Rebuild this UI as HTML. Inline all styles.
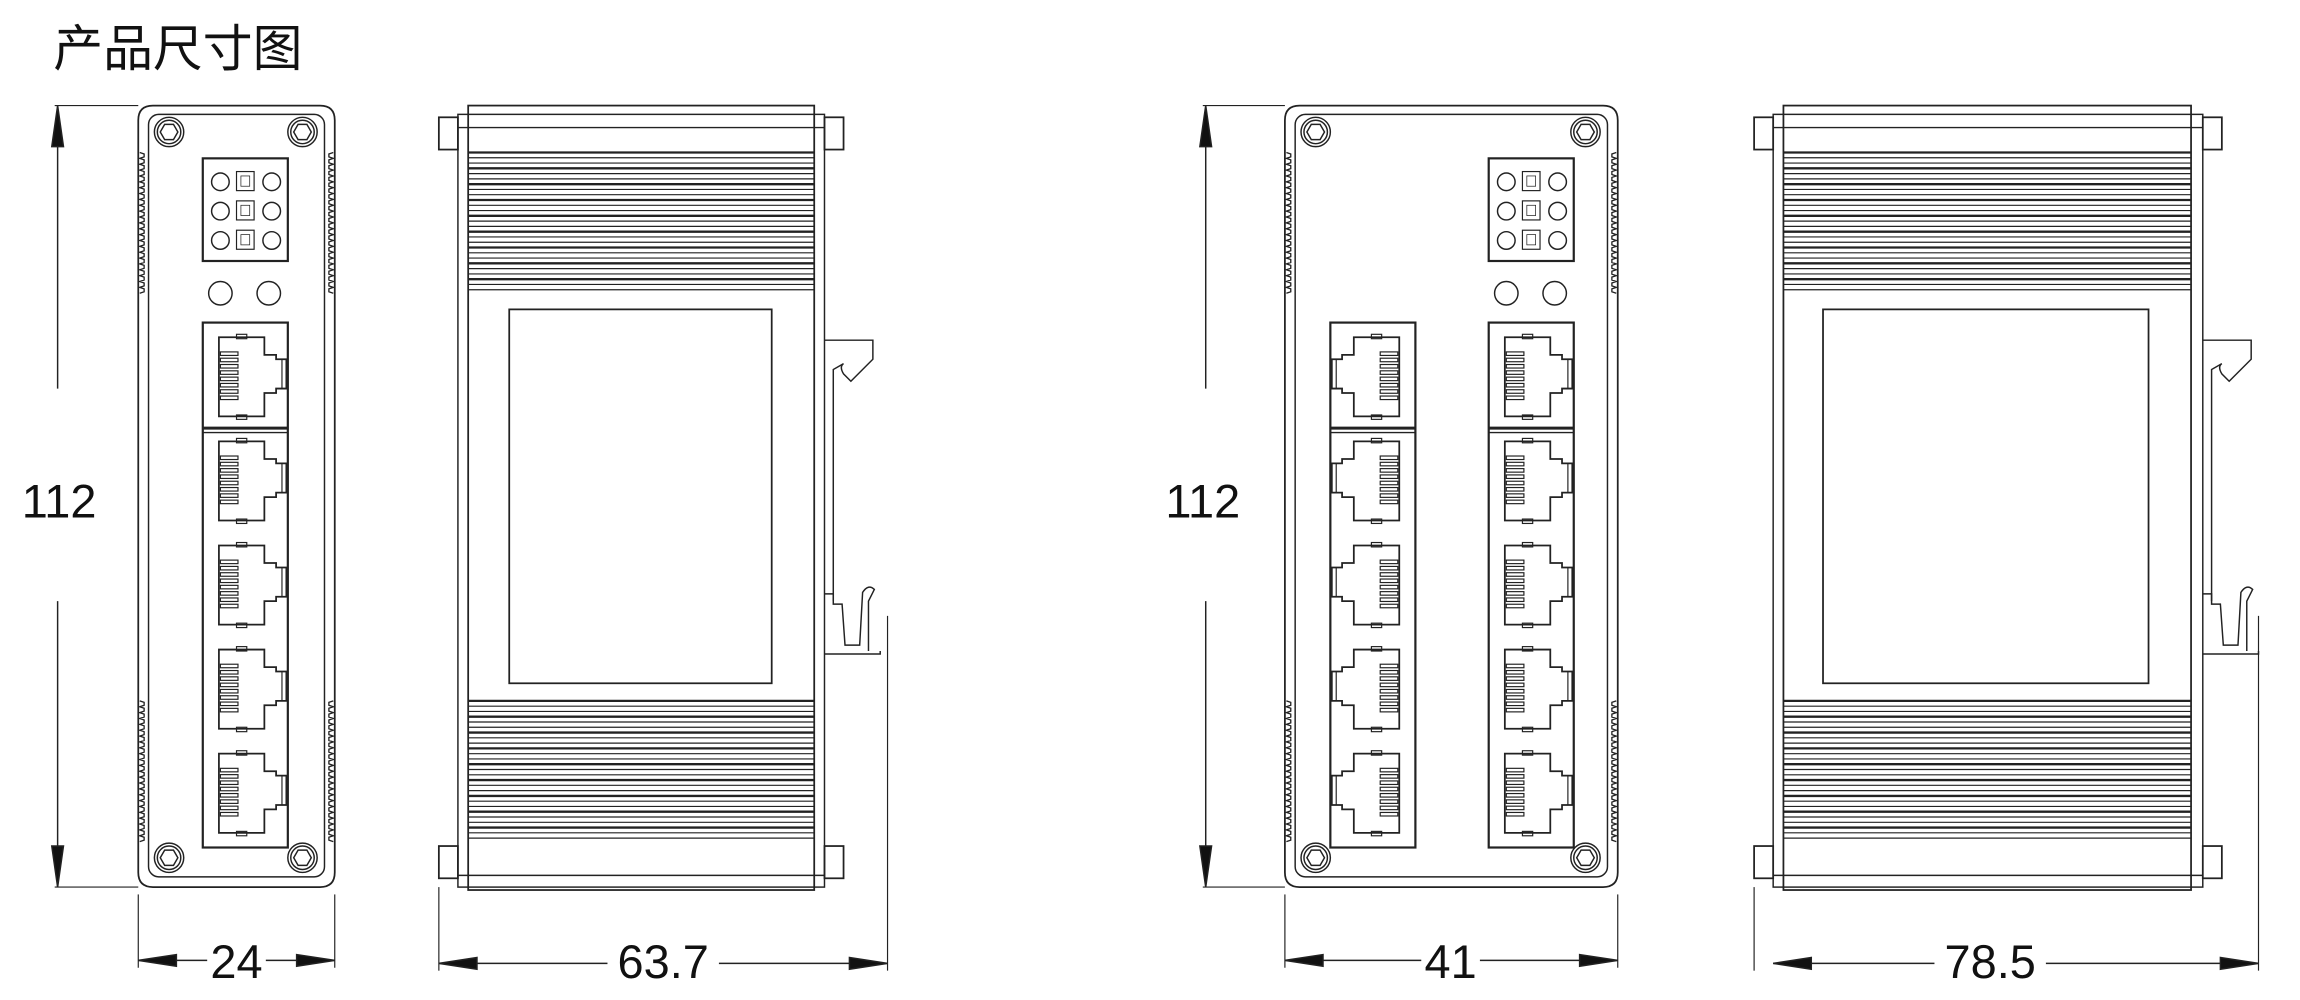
<!DOCTYPE html>
<html><head><meta charset="utf-8"><style>
html,body{margin:0;padding:0;background:#fff;width:2300px;height:1000px;overflow:hidden}
svg{display:block}
text{font-family:"Liberation Sans","Noto Sans CJK SC",sans-serif;fill:#111}
</style></head><body>
<svg id="s" width="2300" height="1000" viewBox="0 0 1568 682" xmlns="http://www.w3.org/2000/svg">
<g id="g" fill="none" stroke="#222" stroke-width="1"></g>
<text x="36" y="45" font-size="34">产品尺寸图</text>
<text x="40" y="353" font-size="32" text-anchor="middle">112</text>
<text x="820" y="353" font-size="32" text-anchor="middle">112</text>
<text x="161" y="667" font-size="32" text-anchor="middle">24</text>
<text x="452" y="667" font-size="32" text-anchor="middle">63.7</text>
<text x="989" y="667" font-size="32" text-anchor="middle">41</text>
<text x="1357" y="667" font-size="32" text-anchor="middle">78.5</text>
</svg>
<script>
var g=document.getElementById('g'),o='';
function L(x1,y1,x2,y2,w){o+='<line x1="'+x1+'" y1="'+y1+'" x2="'+x2+'" y2="'+y2+'"'+(w?' stroke-width="'+w+'"':'')+'/>';}
function R(x,y,w,h,sw,rx){o+='<rect x="'+x+'" y="'+y+'" width="'+w+'" height="'+h+'"'+(sw?' stroke-width="'+sw+'"':'')+(rx?' rx="'+rx+'"':'')+'/>';}
function C(x,y,r){o+='<circle cx="'+x+'" cy="'+y+'" r="'+r+'"/>';}
function P(d,sw){o+='<path d="'+d+'"'+(sw?' stroke-width="'+sw+'"':'')+'/>';}
function screw(x,y){C(x,y,10);C(x,y,8);var d='';for(var i=0;i<6;i++){var a=Math.PI/3*i;d+=(i?'L':'M')+(x+6*Math.cos(a)).toFixed(1)+' '+(y+6*Math.sin(a)).toFixed(1);}P(d+'Z');}
function port(x,y,flip){function X(v){return flip?x+58-v:x+v;}
 var pts=[[11,10],[42,10],[42,22],[50,22],[50,25],[57,25],[57,45],[50,45],[50,48],[42,48],[42,64],[11,64]];
 var d='';pts.forEach(function(p,i){d+=(i?'L':'M')+X(p[0])+' '+(y+p[1]);});P(d+'Z',1.2);
 L(X(54),y+25,X(54),y+45,0.8);
 for(var i=0;i<8;i++){var a=X(12),b=X(24);R(Math.min(a,b),y+20+i*4.3,12,2.4,0.8);}
 R(Math.min(X(23),X(30)),y+8,7,3,0.8);R(Math.min(X(23),X(30)),y+63,7,3,0.8);}
function column(x,flip){R(x,220,58,358,1.5);L(x,292,x+58,292,2);L(x,295,x+58,295,1);
 var ys=[220,291,362,433,504];ys.forEach(function(y){port(x,y,flip);});}
function led(x){R(x,108,58,70,1.5);for(var r=0;r<3;r++){C(x+12,124+r*20,6);C(x+47,124+r*20,6);R(x+23,117+r*20,12,13,0.8);R(x+26,120+r*20,6,7,0.5);}}
function serr(x,y1,y2,dir){var d='M'+x+' '+y1;for(var y=y1;y<y2;y+=4){d+='L'+(x+dir*3)+' '+(y+1)+'L'+(x+dir*3)+' '+(y+3)+'L'+x+' '+(y+4);}P(d,0.9);}
function front(x1,x2,ledx,cols,lx){
 P('M'+(x1+10)+' 72H'+(x2-10)+'Q'+x2+' 72 '+x2+' 82V595Q'+x2+' 605 '+(x2-10)+' 605H'+(x1+10)+'Q'+x1+' 605 '+x1+' 595V82Q'+x1+' 72 '+(x1+10)+' 72Z',1.2);
 R(x1+7,78,x2-x1-14,520,1,7);
 serr(x1+1,104,200,1);serr(x2-1,104,200,-1);serr(x1+1,478,572,1);serr(x2-1,478,572,-1);
 screw(x1+21,90);screw(x2-22,90);screw(x1+21,585);screw(x2-22,585);
 led(ledx);C(ledx+12,200,8);C(ledx+45,200,8);
 cols.forEach(function(c){column(c[0],c[1]);});
 L(lx-2,72,x1,72,0.8);L(lx-2,605,x1,605,0.8);
 L(lx,72,lx,265,1);L(lx,410,lx,605,1);
 o+='<path d="M'+(lx-4)+' 100L'+lx+' 72L'+(lx+4)+' 100Z" fill="#111"/><path d="M'+(lx-4)+' 577L'+lx+' 605L'+(lx+4)+' 577Z" fill="#111"/>';
 L(x1,610,x1,660,0.8);L(x2,610,x2,660,0.8);}
function hdim(x1,x2,y,tx,tw){L(x1,y,tx-tw,y,1);L(tx+tw,y,x2,y,1);
 o+='<path d="M'+x1+' '+y+'L'+(x1+26)+' '+(y-4)+'L'+(x1+26)+' '+(y+4)+'Z" fill="#111"/><path d="M'+x2+' '+y+'L'+(x2-26)+' '+(y-4)+'L'+(x2-26)+' '+(y+4)+'Z" fill="#111"/>';}
function side(bx1,bx2,px1,px2,tx1,tx2,wx1,wx2,dx2){
 R(px1,78,px2-px1,527,1);R(bx1,72,bx2-bx1,535,1.2);
 L(px1,87,px2,87);L(px1,597,px2,597);
 R(tx1,80,px1-tx1,22,1.2);R(px2,80,tx2-px2,22,1.2);R(tx1,577,px1-tx1,22,1.2);R(px2,577,tx2-px2,22,1.2);
 function fins(y1,y2){var n=0;for(var y=y1;y<=y2;y+=3.6){L(bx1,y,bx2,y,(n%3==0)?1.6:0.8);n++;}}
 fins(104,200);fins(478,575);
 R(wx1,211,wx2-wx1,255,1.2);
 var cx=px2;P('M'+cx+' 232H'+(cx+33)+'V245L'+(cx+18)+' 260L'+(cx+13)+' 255Q'+(cx+10)+' 250 '+(cx+13)+' 248L'+(cx+6)+' 252V410',1);
 P('M'+cx+' 446H'+(cx+38)+'V444M'+cx+' 405H'+(cx+6)+'V412H'+(cx+12)+'L'+(cx+14)+' 440H'+(cx+24)+'L'+(cx+26)+' 404Q'+(cx+30)+' 398 '+(cx+34)+' 402L'+(cx+30)+' 410L'+(cx+30)+' 444',1);
 L(tx1,605,tx1,662,0.8);L(dx2,420,dx2,662,0.8);}
front(94,228,138,[[138,0]],39);
hdim(94,228,655,161,20);
side(319,555,312,562,299,575,347,526,605);
hdim(299,605,657,452,38);
front(876,1103,1015,[[907,1],[1015,0]],822);
hdim(876,1103,655,989,20);
side(1216,1494,1209,1502,1196,1515,1243,1465,1540);
hdim(1209,1540,657,1357,38);
g.innerHTML=o;
</script>
</body></html>
